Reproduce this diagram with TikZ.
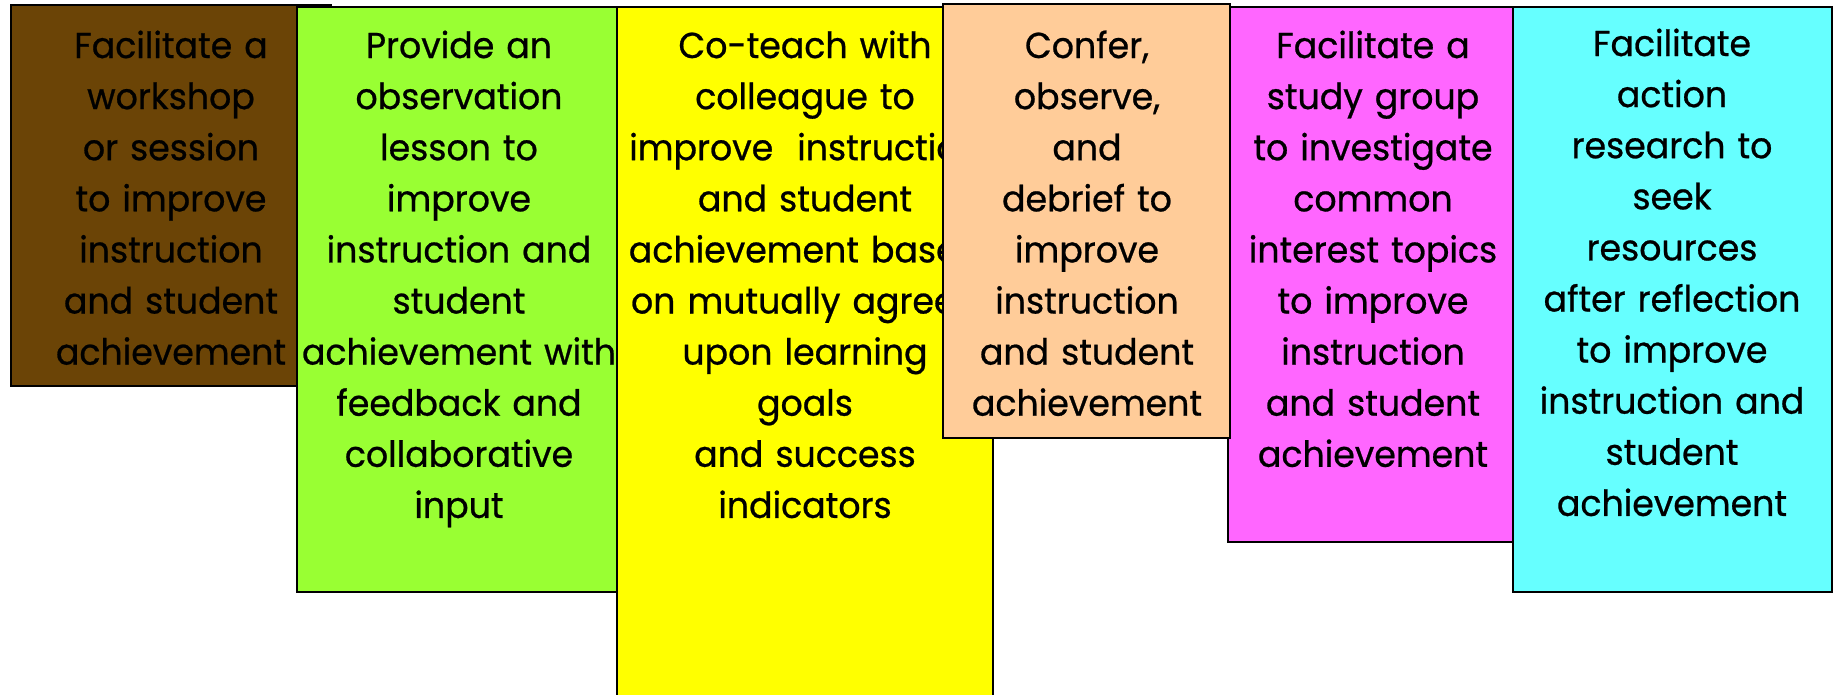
\documentclass[tikz,border=0pt]{standalone}
\usepackage{fontspec}
\setmainfont[FakeStretch=0.965, FakeBold=0.7]{Poppins}
\begin{document}
\begin{tikzpicture}[x=1pt,y=-1pt,
  card/.style={draw=black, line width=2pt, inner sep=0pt, outer sep=0pt, anchor=north west},
  cardtext/.style={text width=420pt, align=center, anchor=base, inner sep=0pt,
    font=\fontsize{36}{51.1}\selectfont, text=black}]
\definecolor{cBrown}{HTML}{6B4406}
\definecolor{cGreen}{HTML}{99FF33}
\definecolor{cYellow}{HTML}{FFFF00}
\definecolor{cPeach}{HTML}{FFCC99}
\definecolor{cPink}{HTML}{FF66FF}
\definecolor{cCyan}{HTML}{66FFFF}
\useasboundingbox[fill=white] (0,0) rectangle (1835,694);

% workshop card
\node[card, fill=cBrown, minimum width=320pt, minimum height=381pt] (workshop) at (11,5) {};
\node[cardtext] (workshopText) at (171,58) {Facilitate a\\workshop\\or session\\to improve\\instruction\\and student\\achievement};

% observation lesson card
\node[card, fill=cGreen, minimum width=321pt, minimum height=585pt] (lesson) at (297,7) {};
\node[cardtext] (lessonText) at (459,58) {Provide an\\observation\\lesson to\\improve\\instruction and\\student\\achievement with\\feedback and\\collaborative\\input};

% co-teaching card
\node[card, fill=cYellow, minimum width=376pt, minimum height=700pt] (coteach) at (617,7) {};
\node[cardtext] (coteachText) at (805,58) {Co-teach with\\colleague to\\improve\ \ instruction\\and student\\achievement based\\on mutually agreed\\upon learning\\goals\\and success\\indicators};

% study group card
\node[card, fill=cPink, minimum width=285pt, minimum height=535pt] (study) at (1228,7) {};
\node[cardtext] (studyText) at (1373,58) {Facilitate a\\study group\\to investigate\\common\\interest topics\\to improve\\instruction\\and student\\achievement};

% confer card
\node[card, fill=cPeach, minimum width=287pt, minimum height=434pt] (confer) at (943,4) {};
\node[cardtext] (conferText) at (1087,58) {Confer,\\observe,\\and\\debrief to\\improve\\instruction\\and student\\achievement};

% action research card
\node[card, fill=cCyan, minimum width=319pt, minimum height=585pt] (action) at (1513,7) {};
\node[cardtext] (actionText) at (1672,56) {Facilitate\\action\\research to\\seek\\resources\\after reflection\\to improve\\instruction and\\student\\achievement};
\end{tikzpicture}
\end{document}
